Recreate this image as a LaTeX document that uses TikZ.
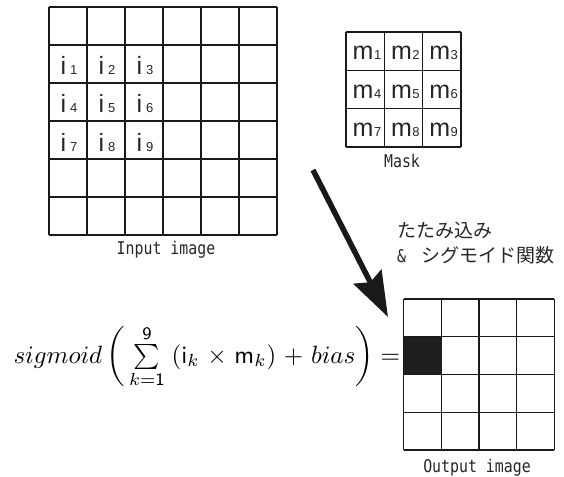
\documentclass[tikz,border=0pt]{standalone}
\usepackage{fontspec}
\usetikzlibrary{arrows.meta}
\newfontfamily\jpfont{Noto Sans CJK JP}
\newfontfamily\mymono{DejaVu Sans Mono}[FakeStretch=0.85]
\newfontfamily\lbfont{Liberation Sans}
\tikzset{
  gridline/.style={line width=1.3pt, draw=black!90},
  caption/.style={font=\mymono\fontsize{17.5}{17.5}\selectfont, inner sep=0pt, text=black!85},
  jptext/.style={font=\jpfont\fontsize{19}{19}\selectfont, inner sep=0pt, anchor=west, text=black!85},
  cell/.style={inner sep=0pt, anchor=base, text=black!85},
  bigarrow/.style={line width=5.5pt, draw=black!90, -{Stealth[length=45pt,width=31pt,inset=6pt]}}
}
\newcommand{\lab}[3]{{\lbfont\fontsize{25}{25}\selectfont #1\hspace{#3}\fontsize{13}{13}\selectfont #2}}
\begin{document}
\begin{tikzpicture}[x=1pt,y=-1pt]
\useasboundingbox (0,0) rectangle (564,476);
% input image grid
\foreach \k in {0,...,6} {
  \draw[gridline] (49+38*\k,7) -- (49+38*\k,235);
  \draw[gridline] (49,7+38*\k) -- (277,7+38*\k);
}
\foreach \r in {0,1,2} {
  \foreach \c in {0,1,2} {
    \pgfmathtruncatemacro{\n}{3*\r+\c+1}
    \node[cell] (i\n) at (69+38*\c,75+38*\r) {\lab{i}{\n}{4pt}};
  }
}
\node[caption] (inlabel) at (166,250) {Input image};
% mask grid
\foreach \k in {0,...,3} {
  \draw[gridline] (346+38.3*\k,32) -- (346+38.3*\k,147);
  \draw[gridline] (346,32+38.3*\k) -- (461,32+38.3*\k);
}
\foreach \r in {0,1,2} {
  \foreach \c in {0,1,2} {
    \pgfmathtruncatemacro{\n}{3*\r+\c+1}
    \node[cell] (m\n) at (367+38.3*\c,60+38.3*\r) {\lab{m}{\n}{0.5pt}};
  }
}
\node[caption] (masklabel) at (402,161) {Mask};
% output grid
\fill[black!88] (403.5,336.7) rectangle (441.2,374.5);
\foreach \k in {0,...,4} {
  \draw[gridline] (403.5+37.7*\k,299) -- (403.5+37.7*\k,450);
  \draw[gridline] (403.5,299+37.75*\k) -- (554.3,299+37.75*\k);
}
\node[caption] (outlabel) at (477,468) {Output image};
% Japanese text
\node[jptext] (jp1) at (397,230) {たたみ込み};
\node[jptext] (jp2) at (397,255) {{\mymono\fontsize{17.5}{17.5}\selectfont\&}\hspace{15pt}シグモイド関数};
% arrow
\coordinate (atail) at (313,170);
\coordinate (atip) at (388,317);
\draw[bigarrow] (atail) -- (atip);
% formula
\node[inner sep=0pt, anchor=base west, scale=2.5, transform shape=false] (formula) at (13,363)
  {\medmuskip=5.5mu $\textstyle sigmoid\left(\,\sum\limits_{k=\mathsf{1}}^{\mathsf{9}}\;(\mathsf{i}_k\times\mathsf{m}_k)+bias\right)=$};
\end{tikzpicture}
\end{document}
